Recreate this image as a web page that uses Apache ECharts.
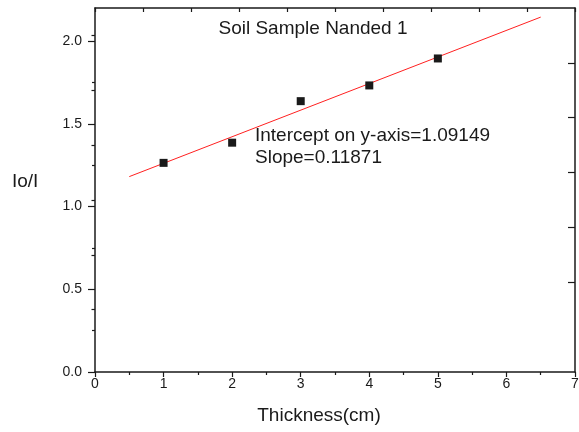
<!DOCTYPE html>
<html>
<head>
<meta charset="utf-8">
<script src="https://cdn.jsdelivr.net/npm/echarts@6/dist/echarts.min.js"></script>
<style>
html,body{margin:0;padding:0;background:#fff;}
#chart{width:579px;height:432px;}
</style>
</head>
<body>
<div id="chart"></div>
<script>
// Data
const thickness = [1, 2, 3, 4, 5];
const ioRatio = [1.264, 1.386, 1.637, 1.732, 1.895];
const fitX = [0.5, 6.5];
const fitY = [1.181, 2.145];
const yMajorTicks = [0, 0.5, 1.0, 1.5, 2.0];
const yMinorTicks = [0.25, 0.75, 1.25, 1.75];
const rightLongTicks = [2, 4, 6, 8, 10];
const rightShortTicks = [1, 3, 5, 7, 9, 11];
const titleText = 'Soil Sample Nanded 1';
const noteLines = ['Intercept on y-axis=1.09149', 'Slope=0.11871'];
const xName = 'Thickness(cm)';
const yName = 'Io/I';

const FONT = '"Liberation Sans", Arial, sans-serif';
const INK = '#1a1a1a';
const frameLine = { show: true, onZero: false, lineStyle: { color: INK, width: 1.5 } };

const chart = echarts.init(document.getElementById('chart'), null, { renderer: 'canvas' });
chart.setOption({
  backgroundColor: '#ffffff',
  animation: false,
  grid: { left: 95, right: 4, top: 8, bottom: 60, containLabel: false, outerBoundsMode: 'none' },
  xAxis: [
    {
      type: 'value', position: 'bottom', min: 0, max: 7, interval: 1,
      axisLine: frameLine,
      axisTick: { show: true, inside: false, length: 5, lineStyle: { color: INK, width: 1.2 } },
      minorTick: { show: true, splitNumber: 2, length: 3, lineStyle: { color: INK, width: 1.2 } },
      axisLabel: { color: INK, fontFamily: FONT, fontSize: 14, margin: 5 },
      splitLine: { show: false },
      name: xName, nameLocation: 'middle', nameGap: 34,
      nameTextStyle: { color: INK, fontFamily: FONT, fontSize: 19, padding: [0, 32, 0, 0] }
    },
    {
      type: 'value', position: 'top', min: 0, max: 10, interval: 1,
      axisLine: frameLine,
      axisTick: { show: true, inside: true, length: 4, lineStyle: { color: INK, width: 1.2 } },
      axisLabel: { show: false },
      splitLine: { show: false }
    }
  ],
  yAxis: [
    {
      type: 'value', position: 'left', min: 0, max: 2.2,
      axisLine: frameLine,
      axisTick: { show: true, inside: false, length: 7, customValues: yMajorTicks, lineStyle: { color: INK, width: 1.2 } },
      axisLabel: { color: INK, fontFamily: FONT, fontSize: 14, margin: 13, customValues: yMajorTicks,
        formatter: v => Number(v).toFixed(1) },
      splitLine: { show: false }
    },
    {
      type: 'value', position: 'right', min: 0, max: 13.27, inverse: true,
      axisLine: frameLine,
      axisTick: { show: true, inside: true, length: 7, customValues: rightLongTicks, lineStyle: { color: INK, width: 1.2 } },
      axisLabel: { show: false },
      splitLine: { show: false }
    },
    {
      type: 'value', position: 'left', min: 0, max: 2.2,
      axisLine: { show: false },
      axisTick: { show: true, inside: false, length: 3, customValues: yMinorTicks, lineStyle: { color: INK, width: 1.2 } },
      axisLabel: { show: false },
      splitLine: { show: false }
    },
    {
      type: 'value', position: 'right', min: 0, max: 13.27, inverse: true,
      axisLine: { show: false },
      axisTick: { show: true, inside: true, length: 3.5, customValues: rightShortTicks, lineStyle: { color: INK, width: 1.2 } },
      axisLabel: { show: false },
      splitLine: { show: false }
    }
  ],
  graphic: [
    { type: 'text', left: 12, top: 172, style: { text: yName, fill: INK, font: '19px ' + FONT } },
    { type: 'text', x: 313, y: 28.5, style: { text: titleText, fill: INK, font: '19px ' + FONT, align: 'center', verticalAlign: 'middle' } },
    { type: 'text', x: 255, y: 136, style: { text: noteLines[0], fill: INK, font: '19px ' + FONT, align: 'left', verticalAlign: 'middle' } },
    { type: 'text', x: 255, y: 157.5, style: { text: noteLines[1], fill: INK, font: '19px ' + FONT, align: 'left', verticalAlign: 'middle' } }
  ],
  series: [
    {
      type: 'line', xAxisIndex: 0, yAxisIndex: 0,
      data: fitX.map((x, i) => [x, fitY[i]]),
      showSymbol: false, symbol: 'none',
      lineStyle: { color: '#ff2020', width: 1 }, z: 2
    },
    {
      type: 'scatter', xAxisIndex: 0, yAxisIndex: 0,
      data: thickness.map((x, i) => [x, ioRatio[i]]),
      symbol: 'rect', symbolSize: 8,
      itemStyle: { color: INK, opacity: 1 }, z: 3
    }
  ]
});
</script>
</body>
</html>
